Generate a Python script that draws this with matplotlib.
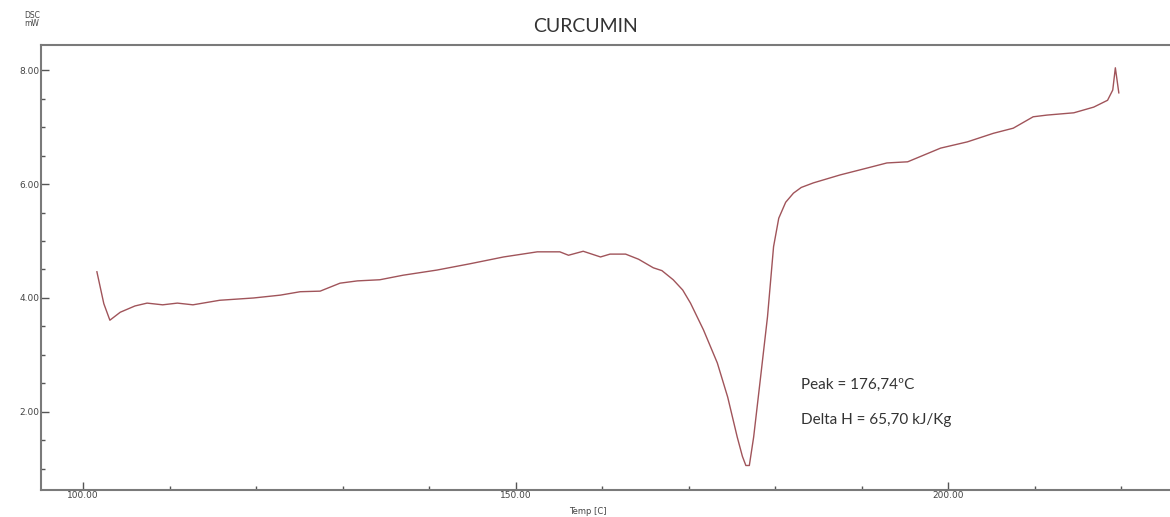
import matplotlib
matplotlib.use("Agg")
import matplotlib.pyplot as plt
from matplotlib.ticker import MultipleLocator, FormatStrFormatter

# DSC curve of curcumin
temp = [101.6, 102.4, 103.1, 104.3, 106.0, 107.4, 109.2, 110.9, 112.7, 115.8,
        119.7, 122.8, 125.1, 127.4, 129.7, 131.7, 134.3, 137.0, 140.9, 144.7,
        148.6, 152.5, 155.1, 156.1, 157.8, 159.8, 160.9, 162.7, 164.2, 165.9,
        166.9, 168.2, 169.3, 170.2, 171.7, 173.3, 174.5, 175.6, 176.2, 176.6,
        177.0, 177.5, 178.3, 179.1, 179.8, 180.4, 181.2, 182.1, 183.0, 184.4,
        187.5, 190.6, 192.9, 195.3, 199.1, 202.2, 205.2, 207.5, 209.8, 211.4,
        214.5, 216.8, 218.4, 219.0, 219.3, 219.7]
dsc = [4.46, 3.90, 3.61, 3.75, 3.86, 3.91, 3.88, 3.91, 3.88, 3.96,
       4.00, 4.05, 4.11, 4.12, 4.26, 4.30, 4.32, 4.40, 4.49, 4.60,
       4.72, 4.81, 4.81, 4.75, 4.82, 4.72, 4.77, 4.77, 4.68, 4.53,
       4.48, 4.32, 4.14, 3.91, 3.44, 2.86, 2.26, 1.56, 1.22, 1.06,
       1.06, 1.56, 2.61, 3.67, 4.90, 5.40, 5.68, 5.84, 5.94, 6.02,
       6.16, 6.28, 6.37, 6.39, 6.63, 6.74, 6.89, 6.98, 7.18, 7.21,
       7.25, 7.35, 7.47, 7.65, 8.04, 7.60]

peak_text = "Peak = 176,74ºC"
dh_text = "Delta H = 65,70 kJ/Kg"

W, H = 1170, 517
fig = plt.figure(figsize=(W / 100, H / 100), dpi=100)
ax = fig.add_axes([41 / W, 1 - 490 / H, (1169 - 41) / W, 445 / H])

ax.plot(temp, dsc, color="#a0545a", lw=1.0)

ax.set_xlim(95.14, 225.5)
ax.set_ylim(0.63, 8.44)

ax.xaxis.set_major_locator(MultipleLocator(50))
ax.xaxis.set_minor_locator(MultipleLocator(10))
ax.yaxis.set_major_locator(MultipleLocator(2))
ax.yaxis.set_minor_locator(MultipleLocator(0.5))
ax.xaxis.set_major_formatter(FormatStrFormatter("%.2f"))
ax.yaxis.set_major_formatter(FormatStrFormatter("%.2f"))

for s in ["left", "top", "bottom"]:
    ax.spines[s].set_color("#7a7a7a")
    ax.spines[s].set_linewidth(1.5)
ax.spines["right"].set_visible(False)

ax.tick_params(which="both", direction="in", color="#555555",
               labelsize=6.5, labelcolor="#444444")
ax.tick_params(which="major", length=6, width=1)
ax.tick_params(which="minor", length=3, width=1)
ax.tick_params(axis="y", pad=1)
ax.tick_params(axis="x", pad=1)

fig.text(585 / W, 1 - 27 / H, "CURCUMIN", ha="center", va="center",
         fontsize=14, family="Lato", color="#333333")
fig.text(32 / W, 1 - 15 / H, "DSC", ha="center", va="center",
         fontsize=5.5, color="#444444")
fig.text(32 / W, 1 - 23 / H, "mW", ha="center", va="center",
         fontsize=5.5, color="#444444")
fig.text(588 / W, 1 - 511 / H, "Temp [C]", ha="center", va="center",
         fontsize=6, color="#444444")

ax.text(183.0, 2.47, peak_text, ha="left", va="center", fontsize=11,
        family="Lato", color="#333333")
ax.text(183.0, 1.86, dh_text, ha="left", va="center", fontsize=11,
        family="Lato", color="#333333")

fig.savefig("out.png", dpi=100)
